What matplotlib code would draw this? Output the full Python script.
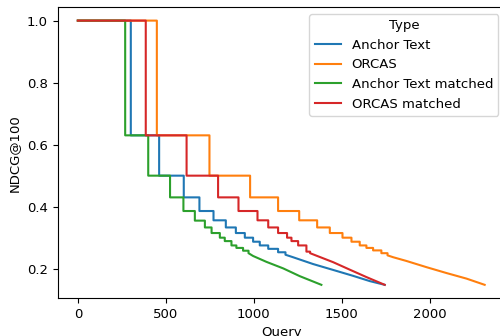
import numpy as np
import matplotlib
matplotlib.use("Agg")
import matplotlib.pyplot as plt

plt.rcParams["font.size"] = 9.5

# Values: step start query and NDCG level, then the smooth tail
labels = ["Anchor Text", "ORCAS", "Anchor Text matched", "ORCAS matched"]
colors = ["#1f77b4", "#ff7f0e", "#2ca02c", "#d62728"]

anchor_step_x = [0, 301, 462, 602, 691, 771, 841, 898, 949, 996, 1034, 1082, 1138]
anchor_step_y = [1.0, 0.63, 0.5, 0.43, 0.386, 0.356, 0.333, 0.315, 0.30, 0.287, 0.275, 0.264, 0.253]
anchor_tail_x = [1180, 1223, 1337, 1451, 1564, 1659, 1744]
anchor_tail_y = [0.245, 0.237, 0.215, 0.196, 0.177, 0.160, 0.148]

orcas_step_x = [0, 449, 748, 979, 1138, 1258, 1360, 1432, 1504, 1555, 1602, 1640, 1678, 1725]
orcas_step_y = [1.0, 0.63, 0.5, 0.43, 0.386, 0.356, 0.333, 0.315, 0.30, 0.287, 0.275, 0.267, 0.259, 0.250]
orcas_tail_x = [1760, 1792, 1867, 1981, 2095, 2209, 2312]
orcas_tail_y = [0.243, 0.237, 0.225, 0.205, 0.186, 0.168, 0.148]

anchor_m_step_x = [0, 269, 400, 524, 600, 665, 722, 760, 807, 835, 873, 901, 939]
anchor_m_step_y = [1.0, 0.63, 0.5, 0.43, 0.386, 0.355, 0.333, 0.315, 0.30, 0.289, 0.275, 0.267, 0.258]
anchor_m_tail_x = [970, 996, 1072, 1167, 1261, 1384]
anchor_m_tail_y = [0.250, 0.241, 0.222, 0.201, 0.176, 0.148]

orcas_m_step_x = [0, 386, 618, 797, 913, 1021, 1082, 1138, 1189, 1214, 1252, 1299]
orcas_m_step_y = [1.0, 0.63, 0.5, 0.43, 0.386, 0.356, 0.333, 0.315, 0.30, 0.289, 0.275, 0.255]
orcas_m_tail_x = [1320, 1356, 1451, 1545, 1640, 1744]
orcas_m_tail_y = [0.250, 0.242, 0.221, 0.197, 0.173, 0.148]

series = [
    (anchor_step_x, anchor_step_y, anchor_tail_x, anchor_tail_y),
    (orcas_step_x, orcas_step_y, orcas_tail_x, orcas_tail_y),
    (anchor_m_step_x, anchor_m_step_y, anchor_m_tail_x, anchor_m_tail_y),
    (orcas_m_step_x, orcas_m_step_y, orcas_m_tail_x, orcas_m_tail_y),
]


def vertices(sx, sy, tx, ty):
    # each level runs until the next step starts (or until the tail begins)
    ends = list(sx[1:]) + [tx[0]]
    xs = np.ravel(np.column_stack([sx, ends]))
    ys = np.repeat(sy, 2)
    return np.concatenate([xs, tx]), np.concatenate([ys, ty])


fig = plt.figure(figsize=(5, 3.36), dpi=100)
ax = fig.add_axes([0.115, 0.113, 0.895, 0.865])

for (sx, sy, tx, ty), lab, col in zip(series, labels, colors):
    x, y = vertices(sx, sy, tx, ty)
    ax.plot(x, y, color=col, lw=1.5, label=lab)

ax.set_xticks([0, 500, 1000, 1500, 2000])
ax.set_yticks([0.2, 0.4, 0.6, 0.8, 1.0])
ax.set_xlabel("Query")
ax.set_ylabel("NDCG@100")
ax.legend(title="Type", loc="upper right")

fig.savefig("out.png", dpi=100)
